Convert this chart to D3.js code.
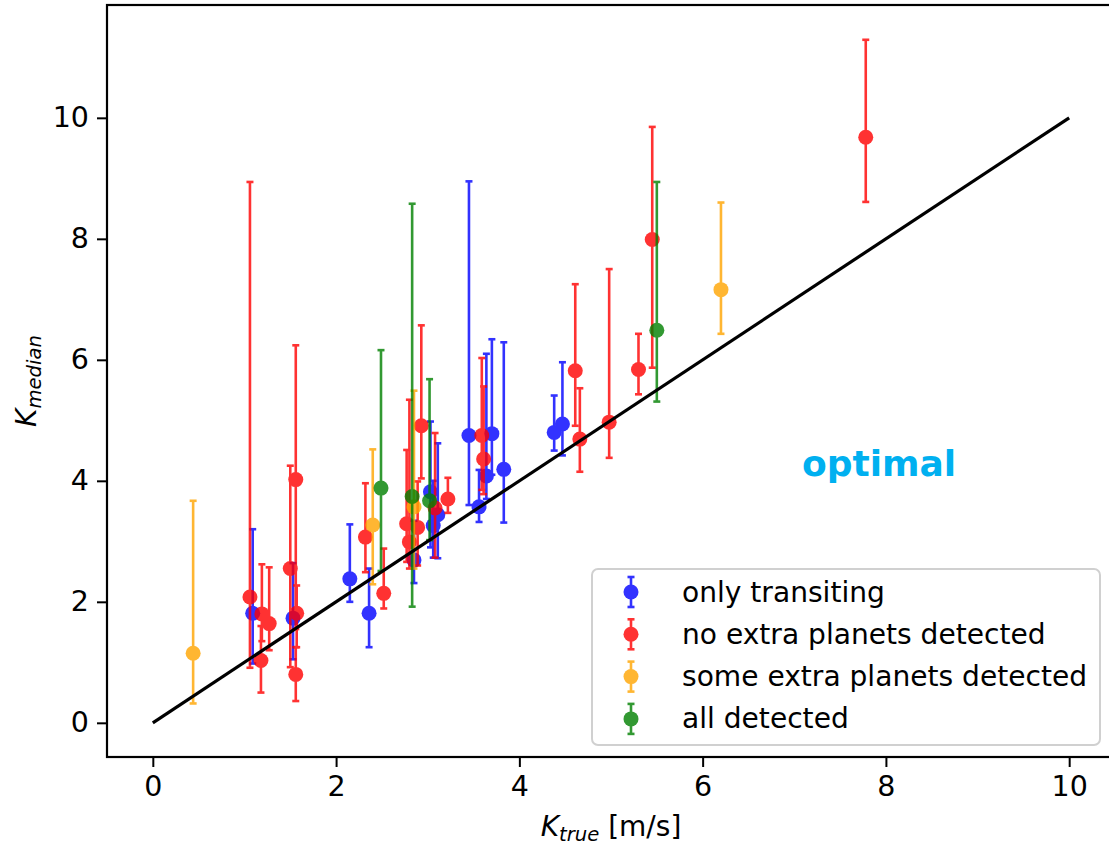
<!DOCTYPE html>
<html>
<head>
<meta charset="utf-8">
<script src="https://cdn.jsdelivr.net/npm/d3@7"></script>
<style>
  body { margin: 0; background: #fff; }
  text { font-family: "DejaVu Sans", sans-serif; }
</style>
</head>
<body>
<svg id="chart" width="1109" height="846"></svg>
<script>
// rows: [K_true, K_median, lower end of bar, upper end of bar]
var onlyTransiting = [
  [1.09, 1.81, 0.98, 3.20], [1.53, 1.73, 1.05, 2.64], [2.15, 2.38, 2.00, 3.28],
  [2.36, 1.81, 1.25, 2.55], [2.85, 2.69, 2.31, 3.34], [3.03, 3.82, 2.90, 4.98],
  [3.06, 3.26, 2.73, 4.00], [3.11, 3.44, 2.72, 4.62], [3.45, 4.75, 3.60, 8.95],
  [3.56, 3.57, 3.32, 4.18], [3.64, 4.08, 3.70, 6.10], [3.70, 4.78, 4.10, 6.34],
  [3.83, 4.19, 3.31, 6.29], [4.38, 4.80, 4.50, 5.41], [4.47, 4.94, 4.42, 5.96]
];
var noExtra = [
  [1.06, 2.08, 0.91, 8.94], [1.19, 1.80, 1.35, 2.62], [1.18, 1.03, 0.50, 1.60],
  [1.27, 1.64, 1.20, 2.57], [1.50, 2.55, 0.92, 4.25], [1.56, 4.02, 1.55, 6.24],
  [1.57, 1.81, 1.25, 2.27], [1.56, 0.80, 0.36, 1.25], [2.32, 3.07, 2.49, 3.96],
  [2.52, 2.14, 1.89, 2.88], [2.77, 3.29, 2.66, 4.51], [2.80, 2.99, 2.55, 5.34],
  [2.89, 3.23, 2.60, 3.99], [2.93, 4.91, 4.04, 6.57], [3.08, 3.55, 2.73, 4.79],
  [3.22, 3.70, 3.47, 4.05], [3.59, 4.75, 3.85, 6.03], [3.61, 4.36, 3.78, 5.56],
  [4.61, 5.82, 4.91, 7.25], [4.66, 4.69, 4.15, 5.53], [4.98, 4.97, 4.38, 7.50],
  [5.30, 5.84, 5.43, 6.43], [5.45, 7.99, 5.87, 9.85], [7.78, 9.68, 8.61, 11.29]
];
var someExtra = [
  [0.44, 1.15, 0.32, 3.67], [2.40, 3.27, 2.29, 4.52],
  [2.85, 3.57, 2.55, 5.49], [6.20, 7.16, 6.43, 8.60]
];
var allDetected = [
  [2.49, 3.88, 2.51, 6.16], [2.83, 3.74, 1.92, 8.58],
  [3.02, 3.67, 3.02, 5.68], [5.50, 6.49, 5.31, 8.94]
];

var seriesNames = ["only transiting", "no extra planets detected", "some extra planets detected", "all detected"];
var seriesData = [onlyTransiting, noExtra, someExtra, allDetected];
var seriesColors = ["#0000ff", "#ff0000", "#ffa500", "#008000"];

var xTicks = [0, 2, 4, 6, 8, 10];
var yTicks = [0, 2, 4, 6, 8, 10];
var optimalLine = [[0, 0], [10, 10]];

var svg = d3.select("#chart");
var plotL = 107, plotR = 1115, plotT = 5, plotB = 757;

var x = d3.scaleLinear().domain([-0.5, 10.5]).range([plotL, plotR]);
var y = d3.scaleLinear().domain([-0.565, 11.865]).range([plotB, plotT]);

// axes
var xAxis = svg.append("g")
  .attr("transform", "translate(0," + plotB + ")")
  .call(d3.axisBottom(x).tickValues(xTicks).tickSize(10).tickPadding(9).tickFormat(d3.format("d")));
var yAxis = svg.append("g")
  .attr("transform", "translate(" + plotL + ",0)")
  .call(d3.axisLeft(y).tickValues(yTicks).tickSize(10).tickPadding(8).tickFormat(d3.format("d")));

[xAxis, yAxis].forEach(function(a){
  a.select(".domain").remove();
  a.selectAll(".tick line").attr("stroke", "#000").attr("stroke-width", 2);
  a.selectAll(".tick text").attr("fill", "#000")
    .style("font-size", "28.5px").style("font-family", "DejaVu Sans");
});

// frame
svg.append("rect")
  .attr("x", plotL).attr("y", plotT)
  .attr("width", plotR - plotL).attr("height", plotB - plotT)
  .attr("fill", "none").attr("stroke", "#000").attr("stroke-width", 2.2);

// error bars, series by series
seriesData.forEach(function(data, i){
  var g = svg.append("g").attr("opacity", 0.8);
  var col = seriesColors[i];
  g.selectAll("line.bar").data(data).enter().append("line")
    .attr("x1", function(d){ return x(d[0]); })
    .attr("x2", function(d){ return x(d[0]); })
    .attr("y1", function(d){ return y(d[2]); })
    .attr("y2", function(d){ return y(d[3]); })
    .attr("stroke", col).attr("stroke-width", 2.6);
  [2, 3].forEach(function(k){
    g.selectAll("line.cap" + k).data(data).enter().append("line")
      .attr("x1", function(d){ return x(d[0]) - 3.5; })
      .attr("x2", function(d){ return x(d[0]) + 3.5; })
      .attr("y1", function(d){ return y(d[k]); })
      .attr("y2", function(d){ return y(d[k]); })
      .attr("stroke", col).attr("stroke-width", 2.6);
  });
  g.selectAll("circle").data(data).enter().append("circle")
    .attr("cx", function(d){ return x(d[0]); })
    .attr("cy", function(d){ return y(d[1]); })
    .attr("r", 7.5)
    .attr("fill", col);
});

// y = x
svg.append("path")
  .datum(optimalLine)
  .attr("d", d3.line().x(function(d){ return x(d[0]); }).y(function(d){ return y(d[1]); }))
  .attr("stroke", "#000").attr("stroke-width", 3.2).attr("fill", "none");

svg.append("text")
  .attr("x", 802).attr("y", 476)
  .attr("fill", "#00b0f0")
  .style("font-size", "36px").style("font-weight", "bold")
  .text("optimal");

// axis labels
var xl = svg.append("text")
  .attr("x", (plotL + plotR) / 2).attr("y", 836)
  .attr("text-anchor", "middle")
  .style("font-size", "28px");
xl.append("tspan").style("font-style", "italic").text("K");
xl.append("tspan").style("font-style", "italic").style("font-size", "19.6px").attr("dy", 5).text("true");
xl.append("tspan").attr("dy", -5).text(" [m/s]");

var yl = svg.append("text")
  .attr("transform", "translate(36," + ((plotT + plotB) / 2) + ") rotate(-90)")
  .attr("text-anchor", "middle")
  .style("font-size", "28px");
yl.append("tspan").style("font-style", "italic").text("K");
yl.append("tspan").style("font-style", "italic").style("font-size", "19.6px").attr("dy", 5).text("median");

// legend
var lg = svg.append("g");
lg.append("rect")
  .attr("x", 592).attr("y", 569).attr("width", 508).attr("height", 176)
  .attr("rx", 6)
  .attr("fill", "#fff").attr("fill-opacity", 0.8)
  .attr("stroke", "#d0d0d0").attr("stroke-width", 2);

seriesNames.forEach(function(name, i){
  var cy = 592 + i * 42.3;
  var row = lg.append("g").attr("opacity", 0.8);
  row.append("line").attr("x1", 631).attr("x2", 631).attr("y1", cy - 15).attr("y2", cy + 15)
    .attr("stroke", seriesColors[i]).attr("stroke-width", 2.6);
  [-15, 15].forEach(function(o){
    row.append("line").attr("x1", 627.5).attr("x2", 634.5).attr("y1", cy + o).attr("y2", cy + o)
      .attr("stroke", seriesColors[i]).attr("stroke-width", 2.6);
  });
  row.append("circle").attr("cx", 631).attr("cy", cy).attr("r", 7.5).attr("fill", seriesColors[i]);
  lg.append("text").attr("x", 682).attr("y", cy + 9.5)
    .style("font-size", "28.1px").attr("fill", "#000")
    .text(name);
});
</script>
</body>
</html>
